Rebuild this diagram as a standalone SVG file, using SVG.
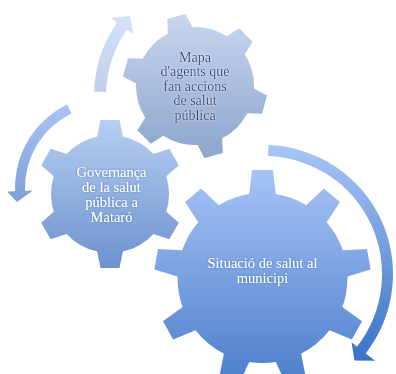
<svg xmlns="http://www.w3.org/2000/svg" width="396" height="374" viewBox="0 0 396 374">
<style>
.dark{font-family:"Liberation Serif","Times New Roman",serif;font-size:14px;fill:#2f4b7e;text-anchor:middle;}
.light{font-family:"Liberation Serif","Times New Roman",serif;font-size:14.5px;fill:#ffffff;text-anchor:middle;}
</style>
<defs>
<linearGradient id="gTop" x1="0" y1="0" x2="0" y2="1"><stop offset="0" stop-color="#cad7ef"/><stop offset="1" stop-color="#8aa4cc"/></linearGradient>
<linearGradient id="gLeft" x1="0" y1="0" x2="0" y2="1"><stop offset="0" stop-color="#b8cff3"/><stop offset="1" stop-color="#6c91cd"/></linearGradient>
<linearGradient id="gBig" x1="0" y1="0" x2="0" y2="1"><stop offset="0" stop-color="#a7c4f6"/><stop offset="1" stop-color="#4a7dca"/></linearGradient>
<linearGradient id="aTL" gradientUnits="userSpaceOnUse" x1="0" y1="15" x2="0" y2="95"><stop offset="0" stop-color="#d4e1f9"/><stop offset="1" stop-color="#bfceea"/></linearGradient>
<linearGradient id="aL" gradientUnits="userSpaceOnUse" x1="0" y1="100" x2="0" y2="202"><stop offset="0" stop-color="#abc6f3"/><stop offset="1" stop-color="#7e9fd8"/></linearGradient>
<linearGradient id="aR" gradientUnits="userSpaceOnUse" x1="0" y1="145" x2="0" y2="362"><stop offset="0" stop-color="#a7c5f7"/><stop offset="1" stop-color="#3a72c4"/></linearGradient>
<filter id="shWhite" x="-20%" y="-20%" width="140%" height="140%"><feDropShadow dx="0" dy="0" stdDeviation="1" flood-color="#ffffff" flood-opacity="0.8"/></filter>
<filter id="shDark" x="-20%" y="-20%" width="140%" height="140%"><feDropShadow dx="0" dy="0" stdDeviation="1" flood-color="#1f3f73" flood-opacity="0.45"/></filter>
<clipPath id="cpBig">
<circle cx="0" cy="0" r="85"/>
<polygon points="-10.5,-108 10.5,-108 14,-78 -14,-78"/>
<polygon points="-10.5,-108 10.5,-108 14,-78 -14,-78" transform="rotate(40)"/>
<polygon points="-10.5,-108 10.5,-108 14,-78 -14,-78" transform="rotate(-40)"/>
<polygon points="-10.5,-108 10.5,-108 14,-78 -14,-78" transform="rotate(80)"/>
<polygon points="-10.5,-108 10.5,-108 14,-78 -14,-78" transform="rotate(-80)"/>
<polygon points="-10.5,-108 10.5,-108 14,-78 -14,-78" transform="rotate(119)"/>
<polygon points="-10.5,-108 10.5,-108 14,-78 -14,-78" transform="rotate(-119)"/>
<polygon points="-10.5,-108 10.5,-108 14,-78 -14,-78" transform="rotate(162)"/>
<polygon points="-10.5,-108 10.5,-108 14,-78 -14,-78" transform="rotate(-162)"/>
</clipPath>
<clipPath id="cpTop">
<circle cx="0" cy="0" r="59"/>
<polygon points="-9.5,-72 9.5,-72 14,-52 -14,-52" transform="rotate(-15)"/>
<polygon points="-9.5,-72 9.5,-72 14,-52 -14,-52" transform="rotate(45)"/>
<polygon points="-9.5,-72 9.5,-72 14,-52 -14,-52" transform="rotate(105)"/>
<polygon points="-9.5,-72 9.5,-72 14,-52 -14,-52" transform="rotate(165)"/>
<polygon points="-9.5,-72 9.5,-72 14,-52 -14,-52" transform="rotate(225)"/>
<polygon points="-9.5,-72 9.5,-72 14,-52 -14,-52" transform="rotate(285)"/>
</clipPath>
<clipPath id="cpLeft">
<circle cx="0" cy="0" r="59"/>
<polygon points="-9.5,-74 9.5,-74 14,-52 -14,-52"/>
<polygon points="-9.5,-74 9.5,-74 14,-52 -14,-52" transform="rotate(60)"/>
<polygon points="-9.5,-74 9.5,-74 14,-52 -14,-52" transform="rotate(120)"/>
<polygon points="-9.5,-74 9.5,-74 14,-52 -14,-52" transform="rotate(180)"/>
<polygon points="-9.5,-74 9.5,-74 14,-52 -14,-52" transform="rotate(240)"/>
<polygon points="-9.5,-74 9.5,-74 14,-52 -14,-52" transform="rotate(300)"/>
</clipPath>
</defs>

<g id="connectors">
<path id="arrow-top-left" fill="url(#aTL)" d="M94.1,91.5 A128,128 0 0 1 117.1,22.6 L110.6,18 L129.9,16 L133.5,34.1 L127,29.5 A116,116 0 0 0 106.1,92 Z"/>
<path id="arrow-left" fill="url(#aL)" d="M67.2,104.4 A93,93 0 0 0 15.1,191.2 L7.1,191.5 L17,202 L33,190.6 L25,190.9 A83,83 0 0 1 71.6,113.4 Z"/>
<path id="arrow-right" fill="url(#aR)" d="M268.5,145.1 A129,129 0 0 1 365.7,353.4 L375.1,360.8 L354.5,360.5 L351.5,342.3 L357,346.7 A118,118 0 0 0 268.1,156.1 Z"/>
</g>

<g id="node-mapa" transform="translate(195,86)">
<rect x="-75" y="-75" width="150" height="150" fill="url(#gTop)" clip-path="url(#cpTop)"/>
<g class="dark" filter="url(#shWhite)">
<text x="0" y="-24.5">Mapa</text>
<text x="0" y="-10">d'agents que</text>
<text x="0" y="4.5">fan accions</text>
<text x="0" y="19">de salut</text>
<text x="0" y="33.5">pública</text>
</g>
</g>

<g id="node-governanca" transform="translate(110,194)">
<rect x="-76" y="-76" width="152" height="152" fill="url(#gLeft)" clip-path="url(#cpLeft)"/>
<g class="light" filter="url(#shDark)">
<text x="1.5" y="-17.5">Governança</text>
<text x="1.5" y="-2.5">de la salut</text>
<text x="1.5" y="12.5">pública a</text>
<text x="1.5" y="27.5">Mataró</text>
</g>
</g>

<g id="node-situacio" transform="translate(262.5,278)">
<rect x="-110" y="-110" width="220" height="220" fill="url(#gBig)" clip-path="url(#cpBig)"/>
<g class="light" filter="url(#shDark)">
<text x="0" y="-10">Situació de salut al</text>
<text x="0" y="5">municipi</text>
</g>
</g>
</svg>
